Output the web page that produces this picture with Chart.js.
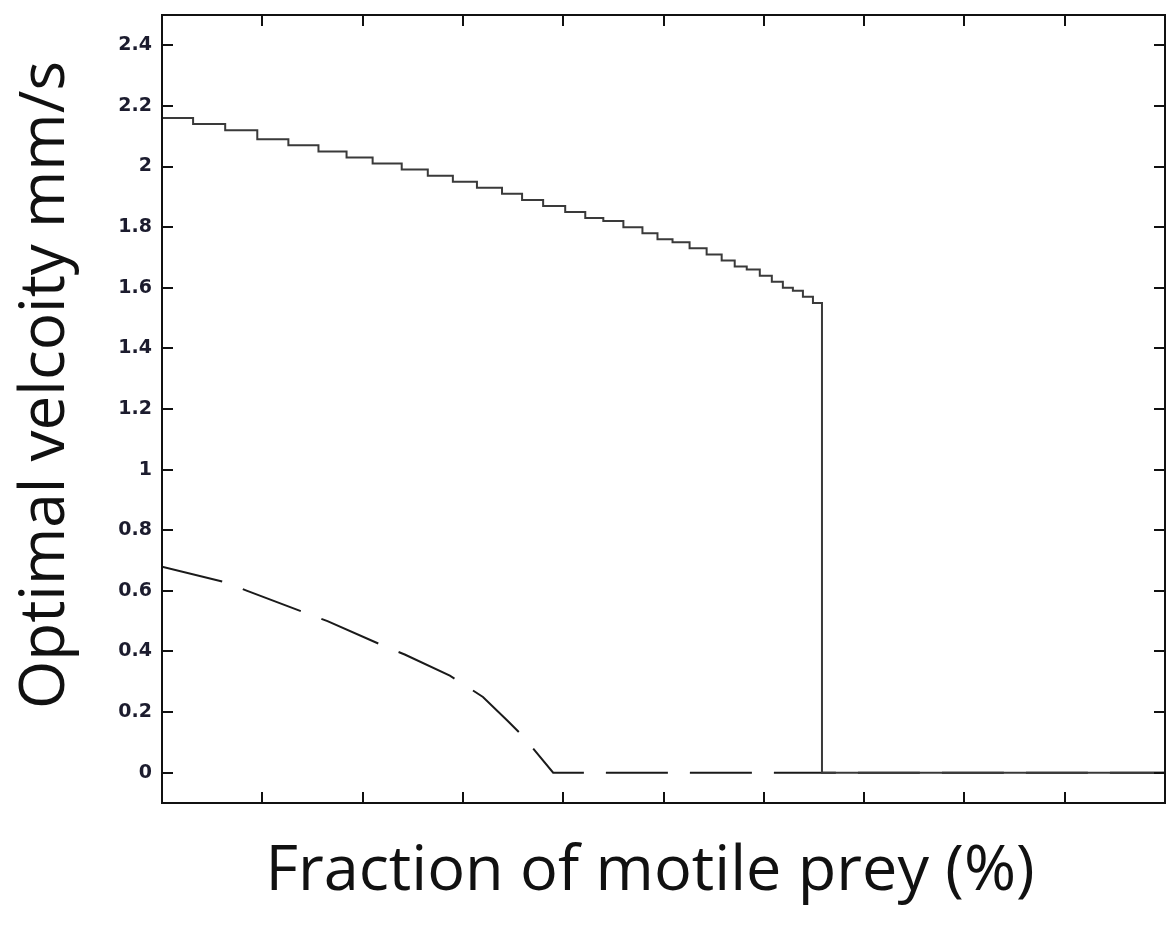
<!DOCTYPE html>
<html>
<head>
<meta charset="utf-8">
<script src="https://cdn.jsdelivr.net/npm/chart.js@4.4.0/dist/chart.umd.min.js"></script>
<style>
    html, body { margin: 0; padding: 0; background: #fff; }
    #wrap { width: 1176px; height: 926px; }
</style>
</head>
<body>
<div id="wrap"><canvas id="chart" width="1176" height="926"></canvas></div>
<script>
// Solid line: step positions (% motile prey) and the velocity held from each step on
const solidX = [0, 3.1, 6.3, 9.5, 12.6, 15.6, 18.4, 21.0, 23.9, 26.5, 29.0, 31.4, 33.9, 35.9, 38.0, 40.2,
    42.2, 44.0, 46.0, 47.9, 49.4, 50.9, 52.6, 54.3, 55.8, 57.1, 58.3, 59.6, 60.8, 61.9, 62.9, 63.9, 64.9,
    65.8, 65.8, 100];
const solidY = [2.16, 2.14, 2.12, 2.09, 2.07, 2.05, 2.03, 2.01, 1.99, 1.97, 1.95, 1.93, 1.91, 1.89, 1.87, 1.85,
    1.83, 1.82, 1.80, 1.78, 1.76, 1.75, 1.73, 1.71, 1.69, 1.67, 1.66, 1.64, 1.62, 1.60, 1.59, 1.57, 1.55,
    1.55, 0, 0];

// Dashed line
const dashX = [0, 6.1, 8.5, 14.1, 16.5, 22.0, 24.2, 28.7, 32.0, 34.5, 36.0, 39.0, 100];
const dashY = [0.68, 0.63, 0.60, 0.53, 0.50, 0.42, 0.39, 0.32, 0.25, 0.17, 0.12, 0, 0];

// Axes
const xTicks = [0, 10, 20, 30, 40, 50, 60, 70, 80, 90, 100];
const yTicks = [0, 0.2, 0.4, 0.6, 0.8, 1, 1.2, 1.4, 1.6, 1.8, 2, 2.2, 2.4];
const yTickLabels = ['0', '0.2', '0.4', '0.6', '0.8', '1', '1.2', '1.4', '1.6', '1.8', '2', '2.2', '2.4'];
const xTitle = 'Fraction of motile prey (%)';
const yTitle = 'Optimal velcoity mm/s';

const toPoints = (xs, ys) => xs.map((x, i) => ({ x: x, y: ys[i] }));

// frame, inward ticks on all four sides, and the two axis titles
const framePlugin = {
    id: 'frame',
    afterDraw(chart) {
        const ctx = chart.ctx;
        const a = chart.chartArea;
        const xs = chart.scales.x, ys = chart.scales.y;
        ctx.save();
        ctx.strokeStyle = '#111';
        ctx.lineWidth = 2;
        ctx.strokeRect(a.left, a.top, a.right - a.left, a.bottom - a.top);
        ctx.beginPath();
        yTicks.forEach(v => {
            const py = Math.round(ys.getPixelForValue(v));
            ctx.moveTo(a.left, py); ctx.lineTo(a.left + 11, py);
            ctx.moveTo(a.right, py); ctx.lineTo(a.right - 11, py);
        });
        xTicks.slice(1, -1).forEach(v => {
            const px = Math.round(xs.getPixelForValue(v));
            ctx.moveTo(px, a.bottom); ctx.lineTo(px, a.bottom - 11);
            ctx.moveTo(px, a.top); ctx.lineTo(px, a.top + 11);
        });
        ctx.stroke();

        ctx.fillStyle = '#111';
        ctx.textAlign = 'center';
        ctx.textBaseline = 'alphabetic';
        ctx.font = '63px "Open Sans"';
        ctx.fillText(xTitle, 650, 890);

        ctx.translate(64, 385);
        ctx.rotate(-Math.PI / 2);
        ctx.font = '62px "Open Sans"';
        ctx.fillText(yTitle, 0, 0);
        ctx.restore();
    }
};

new Chart(document.getElementById('chart'), {
    type: 'line',
    data: {
        datasets: [
            {
                data: toPoints(solidX, solidY),
                borderColor: '#3a3a3a',
                borderWidth: 2,
                stepped: true,
                pointRadius: 0,
                fill: false
            },
            {
                data: toPoints(dashX, dashY),
                borderColor: '#1a1a1a',
                borderWidth: 2,
                borderDash: [62, 22],
                tension: 0,
                pointRadius: 0,
                fill: false
            }
        ]
    },
    options: {
        responsive: false,
        animation: false,
        layout: { padding: { left: 0, right: 11, top: 15, bottom: 0 } },
        plugins: { legend: { display: false }, tooltip: { enabled: false } },
        scales: {
            x: {
                type: 'linear',
                min: 0, max: 100,
                grid: { display: false, drawTicks: false },
                border: { display: false },
                ticks: { display: false },
                afterBuildTicks: (axis) => { axis.ticks = xTicks.map(v => ({ value: v })); },
                afterFit: (axis) => { axis.height = 123; axis.paddingLeft = 0; axis.paddingRight = 0; }
            },
            y: {
                min: -0.1, max: 2.5,
                grid: { display: false, drawTicks: false },
                border: { display: false },
                afterBuildTicks: (axis) => { axis.ticks = yTicks.map(v => ({ value: v })); },
                afterFit: (axis) => { axis.width = 162; axis.paddingTop = 0; axis.paddingBottom = 0; },
                ticks: {
                    padding: 10,
                    color: '#1c1c2e',
                    font: { family: 'DejaVu Sans', size: 19, weight: 'bold' },
                    callback: (v) => yTickLabels[yTicks.indexOf(v)] ?? ''
                }
            }
        }
    },
    plugins: [framePlugin]
});
</script>
</body>
</html>
